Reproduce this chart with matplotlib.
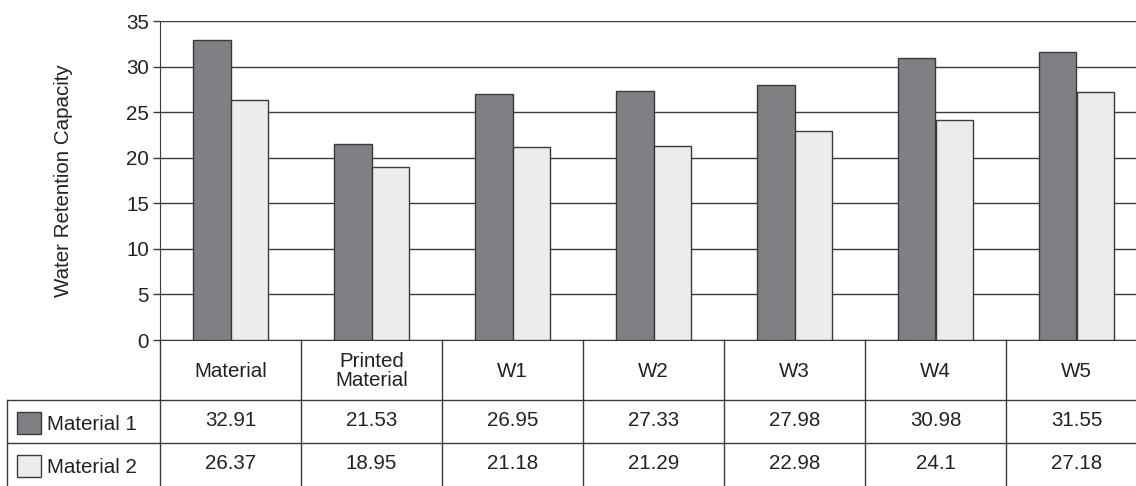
import matplotlib.pyplot as plt
from matplotlib.transforms import blended_transform_factory
from matplotlib.patches import Rectangle
import numpy as np

plt.rcParams['font.family'] = ['Liberation Sans', 'DejaVu Sans']

categories = ['Material', 'Printed\nMaterial', 'W1', 'W2', 'W3', 'W4', 'W5']
material1 = [32.91, 21.53, 26.95, 27.33, 27.98, 30.98, 31.55]
material2 = [26.37, 18.95, 21.18, 21.29, 22.98, 24.1, 27.18]
series_names = ['Material 1', 'Material 2']
yticks = [0, 5, 10, 15, 20, 25, 30, 35]

dark = '#7e8083'
light = '#ebecec'
edge = '#3a3a3a'
W, H = 1136, 486
fs = 14.8

fig = plt.figure(figsize=(W / 100, H / 100), dpi=100)
# axes in pixel terms, right side runs a bit past the canvas
left, right, top, bottom = 160, 1147, 21, 340
ax = fig.add_axes([left / W, (H - bottom) / H, (right - left) / W, (bottom - top) / H])

x = np.arange(len(categories))
bw = 0.265
ax.bar(x - bw / 2, material1, bw, color=dark, edgecolor=edge, linewidth=1, zorder=3)
ax.bar(x + bw / 2, material2, bw, color=light, edgecolor=edge, linewidth=1, zorder=3)

ax.set_xlim(-0.5, len(categories) - 0.5)
ax.set_ylim(0, 35)
ax.set_yticks(yticks)
ax.yaxis.grid(True, color=edge, linewidth=1, zorder=0)
ax.set_xticks([])
ax.tick_params(axis='y', labelsize=fs, length=5, color=edge, width=1, pad=3, labelcolor='#222')
for s in ['top', 'right']:
    ax.spines[s].set_visible(False)
for s in ['left', 'bottom']:
    ax.spines[s].set_color(edge)
ax.set_ylabel('Water Retention Capacity', fontsize=fs, color='#222')
ax.yaxis.set_label_coords((73 - left) / (right - left), 0.5)

# data table underneath
tr = blended_transform_factory(ax.transData, fig.transFigure)
fy = lambda py: (H - py) / H
fx = lambda px: px / W
lc = dict(color=edge, linewidth=1, clip_on=False)
fig.add_artist(plt.Line2D([fx(7), fx(right)], [fy(400)] * 2, transform=fig.transFigure, **lc))
fig.add_artist(plt.Line2D([fx(7), fx(right)], [fy(443)] * 2, transform=fig.transFigure, **lc))
fig.add_artist(plt.Line2D([fx(7), fx(7)], [fy(400), fy(486)], transform=fig.transFigure, **lc))
for i in range(len(categories) + 1):
    ax.plot([i - 0.5, i - 0.5], [fy(340), fy(486)], transform=tr, **lc)

for i, cat in enumerate(categories):
    ax.text(i, fy(371), cat, transform=tr, ha='center', va='center',
            fontsize=fs, color='#222', linespacing=1.05)
    ax.text(i, fy(420), f'{material1[i]:g}', transform=tr, ha='center', va='center',
            fontsize=fs, color='#222')
    ax.text(i, fy(463), f'{material2[i]:g}', transform=tr, ha='center', va='center',
            fontsize=fs, color='#222')

for name, col, ymid in zip(series_names, [dark, light], [423, 466]):
    fig.add_artist(Rectangle((fx(17), fy(ymid + 11)), 24 / W, 22 / H, transform=fig.transFigure,
                             facecolor=col, edgecolor=edge, linewidth=1))
    fig.text(fx(47), fy(ymid + 1), name, ha='left', va='center', fontsize=fs, color='#222')

fig.savefig('out.png', dpi=100)
